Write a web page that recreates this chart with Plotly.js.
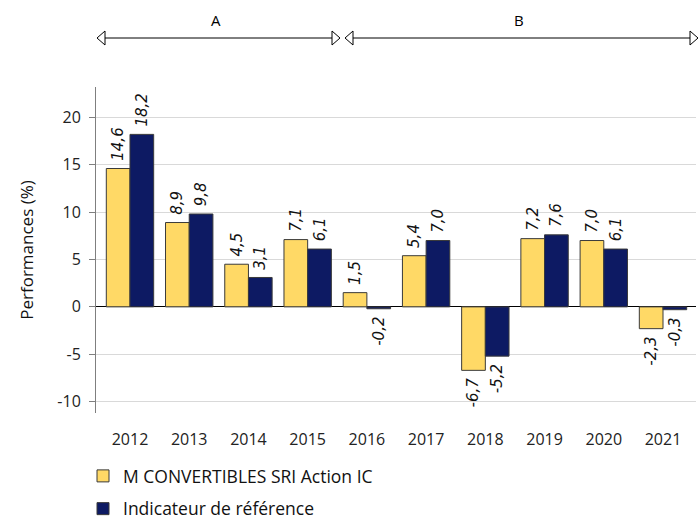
<!DOCTYPE html>
<html>
<head>
<meta charset="utf-8">
<script src="https://cdn.plot.ly/plotly-3.0.1.min.js"></script>
<style>html,body{margin:0;padding:0;background:#fff}#chart{width:700px;height:520px}</style>
</head>
<body>
<div id="chart"></div>
<script>
var years = ['2012','2013','2014','2015','2016','2017','2018','2019','2020','2021'];
var fundName = 'M CONVERTIBLES SRI Action IC';
var benchName = 'Indicateur de référence';
var fundValues = [14.6, 8.9, 4.5, 7.1, 1.5, 5.4, -6.7, 7.2, 7.0, -2.3];
var benchValues = [18.2, 9.8, 3.1, 6.1, -0.2, 7.0, -5.2, 7.6, 6.1, -0.3];
var periodLabels = ['A', 'B'];
var yTicks = [-10, -5, 0, 5, 10, 15, 20];

var NB = '\u00a0';
function fmt(v){
  var s = v.toFixed(1).replace('.', ',');
  return v >= 0 ? NB + s : s + NB;
}

var W = 700, H = 520, L = 96, R = 4, T = 87, B = 107;
var pw = W - L - R, ph = H - T - B;
function px(x){ return (x - L) / pw; }
function py(y){ return (H - B - y) / ph; }

var textFont = {family: 'DejaVu Sans', size: 15, color: '#111', style: 'italic'};

var traces = [
  {type: 'bar', name: fundName, x: years, y: fundValues, legendgroup: 'f',
   text: fundValues.map(fmt), textposition: 'outside', textangle: -90,
   textfont: textFont, cliponaxis: false, constraintext: 'none',
   marker: {color: '#FFD966', line: {color: '#3a3a3a', width: 1}}, hoverinfo: 'none'},
  {type: 'bar', name: benchName, x: years, y: benchValues, legendgroup: 'b',
   text: benchValues.map(fmt), textposition: 'outside', textangle: -90,
   textfont: textFont, cliponaxis: false, constraintext: 'none',
   marker: {color: '#0D1A63', line: {color: '#3a3a3a', width: 1}}, hoverinfo: 'none'}
];

// Period arrows (A over 2012-2015, B over 2016-2021)
var ay = py(38), aTop = py(31), aBot = py(45);
var segs = [[97, 340], [345, 698]];
var shapes = [];
var annotations = [];
segs.forEach(function(s, i){
  var x0 = s[0], x1 = s[1], hw = 8;
  shapes.push({type: 'line', xref: 'paper', yref: 'paper', x0: px(x0 + hw), x1: px(x1 - hw), y0: ay, y1: ay,
    line: {color: '#000', width: 1}});
  shapes.push({type: 'path', xref: 'paper', yref: 'paper',
    path: 'M' + px(x0) + ',' + ay + ' L' + px(x0 + hw) + ',' + aTop + ' L' + px(x0 + hw) + ',' + aBot + ' Z',
    fillcolor: '#fff', line: {color: '#000', width: 1}});
  shapes.push({type: 'path', xref: 'paper', yref: 'paper',
    path: 'M' + px(x1) + ',' + ay + ' L' + px(x1 - hw) + ',' + aTop + ' L' + px(x1 - hw) + ',' + aBot + ' Z',
    fillcolor: '#fff', line: {color: '#000', width: 1}});
  annotations.push({xref: 'paper', yref: 'paper', x: px((x0 + x1) / 2 - 3), y: py(20),
    xanchor: 'center', yanchor: 'middle',
    text: periodLabels[i], showarrow: false, font: {family: 'Open Sans', size: 15, color: '#000'}});
});

var layout = {
  width: W, height: H,
  margin: {l: L, r: R, t: T, b: B, pad: 0, autoexpand: false},
  paper_bgcolor: '#fff', plot_bgcolor: '#fff',
  barmode: 'group', bargap: 0.2, bargroupgap: 0,
  showlegend: true,
  legend: {x: px(83), xanchor: 'left', y: py(458), yanchor: 'top', traceorder: 'grouped',
    font: {family: 'Open Sans', size: 17.5, color: '#111'}, bgcolor: 'rgba(0,0,0,0)', tracegroupgap: 7},
  xaxis: {type: 'category', range: [-0.574, 9.557], showgrid: false, zeroline: false, showline: false,
    ticks: 'outside', ticklen: 12, tickcolor: 'rgba(0,0,0,0)',
    tickfont: {family: 'Open Sans', size: 16, color: '#222'}},
  yaxis: {range: [-11.2, 23.2], tickvals: yTicks, ticktext: yTicks.map(String),
    showgrid: true, gridcolor: '#d9d9d9', gridwidth: 1,
    zeroline: true, zerolinecolor: '#000', zerolinewidth: 1,
    showline: true, linecolor: '#7f7f7f', linewidth: 1,
    ticks: 'outside', ticklen: 6, tickcolor: '#7f7f7f', ticklabelstandoff: 5,
    tickfont: {family: 'Open Sans', size: 16, color: '#222'},
    title: {text: 'Performances (%)', font: {family: 'Open Sans', size: 17, color: '#111'}, standoff: 19}},
  shapes: shapes,
  annotations: annotations,
  font: {family: 'Open Sans'}
};

Plotly.newPlot('chart', traces, layout, {displayModeBar: false, staticPlot: true});
</script>
</body>
</html>
